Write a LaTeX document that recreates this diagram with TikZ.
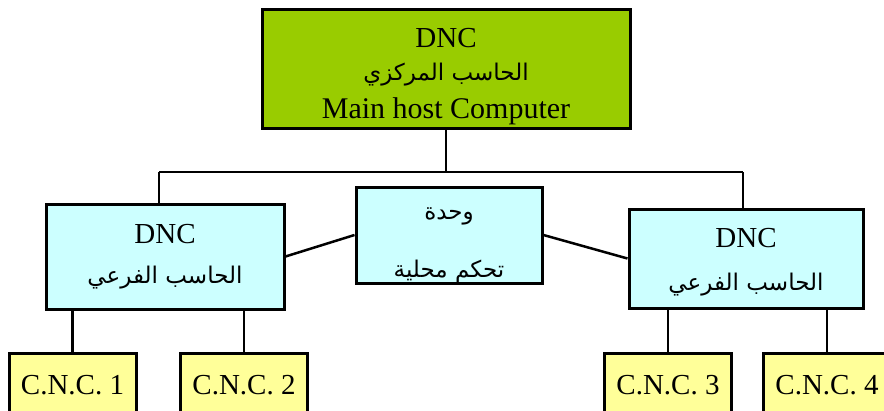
\documentclass[tikz,border=0pt]{standalone}
\usepackage{fontspec}
\setmainfont{Liberation Serif}
\newfontfamily\arabicfont[Script=Arabic]{DejaVu Sans}
\TeXXeTstate=1
\definecolor{hostgreen}{HTML}{99CC00}
\definecolor{subcyan}{HTML}{CCFFFF}
\definecolor{cncyellow}{HTML}{FFFF99}
\newcommand\artext[1]{{\arabicfont\fontsize{23}{36}\selectfont\beginR #1\endR}}

\begin{document}
\begin{tikzpicture}[x=1pt,y=-1pt,
  box/.style={draw,line width=3pt,align=center,inner sep=0pt,
    font=\fontsize{29}{36}\selectfont},
  hostbox/.style={box,fill=hostgreen},
  subbox/.style={box,fill=subcyan},
  cncbox/.style={box,fill=cncyellow,minimum width=127pt,minimum height=64pt},
  link/.style={line width=2.5pt}]
        \useasboundingbox (0,0) rectangle (884,410);
        \clip (0,0) rectangle (884,410);

        \node [hostbox,minimum width=368pt,minimum height=119pt] (host) at (446,68.5)
          {\rule{0pt}{36pt}DNC\\[-3pt] \artext{الحاسب المركزي}\\[2pt]
           {\fontsize{30}{36}\selectfont Main host Computer}};

        \node [subbox,minimum width=238pt,minimum height=105pt] (subL) at (165,256.5)
          {DNC\\[4pt] \artext{الحاسب الفرعي}};
        \node [subbox,minimum width=186pt,minimum height=96pt] (unit) at (449,235)
          {\rule{0pt}{32pt}\artext{وحدة}\\[22pt] \artext{تحكم محلية}};
        \node [subbox,minimum width=234pt,minimum height=99pt] (subR) at (746,258.5)
          {\rule{0pt}{27pt}DNC\\[7pt] \artext{الحاسب الفرعي}};

        \node [cncbox] (cnc1) at (72.5,385) {C.N.C. 1};
        \node [cncbox] (cnc2) at (244,385) {C.N.C. 2};
        \node [cncbox] (cnc3) at (668,385) {C.N.C. 3};
        \node [cncbox] (cnc4) at (827,385) {C.N.C. 4};

        \coordinate (busL) at (159,172);
        \coordinate (busR) at (743,172);

        \draw [link] (host.south) -- (host.south |- busL);
        \draw [link] (busL) -- (busR);
        \draw [link] (busL) -- (busL |- subL.north);
        \draw [link] (busR) -- (busR |- subR.north);

        \draw [link] (subL.east) -- (unit.west);
        \draw [link] (unit.east) -- (subR.west);

        \draw [link] (cnc1.north) -- (cnc1.north |- subL.south);
        \draw [link] (cnc2.north) -- (cnc2.north |- subL.south);
        \draw [link] (cnc3.north) -- (cnc3.north |- subR.south);
        \draw [link] (cnc4.north) -- (cnc4.north |- subR.south);
      \end{tikzpicture}
\end{document}
